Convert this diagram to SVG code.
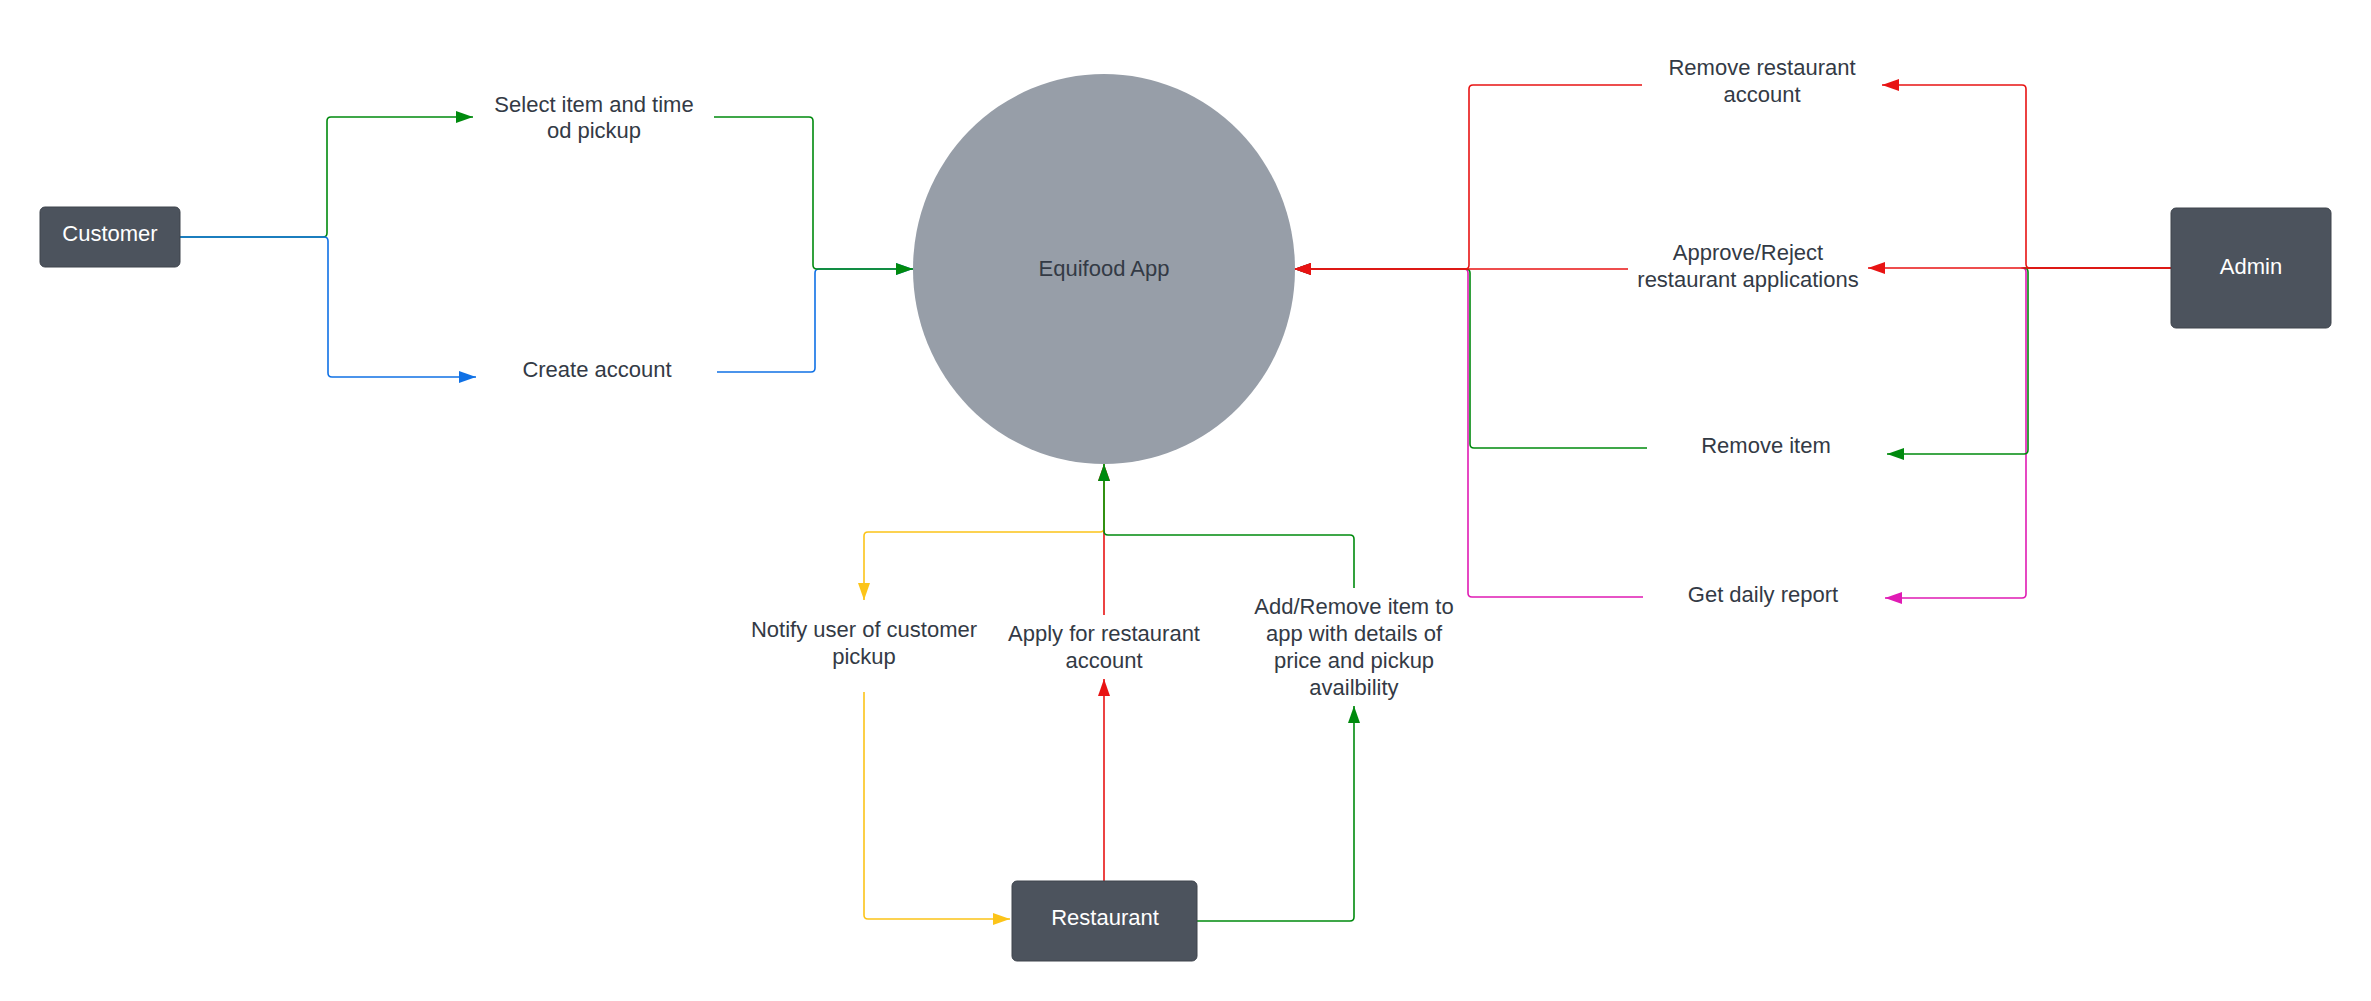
<svg xmlns="http://www.w3.org/2000/svg" width="2371" height="1001" viewBox="0 0 2371 1001">
<style>
.bg{fill:#ffffff}
.box{fill:#4c535d;stroke:#3e444d;stroke-width:1}
.boxt{font-family:"Liberation Sans",Arial,sans-serif;font-size:22px;fill:#ffffff;text-anchor:middle}
.t{font-family:"Liberation Sans",Arial,sans-serif;font-size:22px;fill:#333a45;text-anchor:middle}
.c{fill:none;stroke-width:1.6;stroke-linejoin:round}
.g{stroke:#008a0e}
.b{stroke:#1071e5}
.r{stroke:#e81313}
.y{stroke:#fcc419}
.m{stroke:#e01bb4}
</style>
<defs>
<marker id="aG" markerUnits="userSpaceOnUse" markerWidth="17" markerHeight="12" refX="17" refY="6" orient="auto"><path d="M0,0 L17,6 L0,12 z" fill="#008a0e"/></marker>
<marker id="aB" markerUnits="userSpaceOnUse" markerWidth="17" markerHeight="12" refX="17" refY="6" orient="auto"><path d="M0,0 L17,6 L0,12 z" fill="#1071e5"/></marker>
<marker id="aR" markerUnits="userSpaceOnUse" markerWidth="17" markerHeight="12" refX="17" refY="6" orient="auto"><path d="M0,0 L17,6 L0,12 z" fill="#e81313"/></marker>
<marker id="aY" markerUnits="userSpaceOnUse" markerWidth="17" markerHeight="12" refX="17" refY="6" orient="auto"><path d="M0,0 L17,6 L0,12 z" fill="#fcc419"/></marker>
<marker id="aM" markerUnits="userSpaceOnUse" markerWidth="17" markerHeight="12" refX="17" refY="6" orient="auto"><path d="M0,0 L17,6 L0,12 z" fill="#e01bb4"/></marker>
</defs>
<rect class="bg" x="0" y="0" width="2371" height="1001"/>

<g id="connectors">
  <!-- Customer side -->
  <path class="c g" d="M180,237 H323 Q327,237 327,233 V121 Q327,117 331,117 H473" marker-end="url(#aG)"/>
  <path class="c b" d="M180,237 H324 Q328,237 328,241 V373 Q328,377 332,377 H476" marker-end="url(#aB)"/>
  <path class="c b" d="M717,372 H811 Q815,372 815,368 V273 Q815,269 819,269 H913" marker-end="url(#aB)"/>
  <path class="c g" d="M714,117 H809 Q813,117 813,121 V265 Q813,269 817,269 H913" marker-end="url(#aG)"/>

  <!-- Admin side -->
  <path class="c m" d="M2171,268 H2022 Q2026,268 2026,272 V594 Q2026,598 2022,598 H1885" marker-end="url(#aM)"/>
  <path class="c g" d="M2171,268 H2024 Q2028,268 2028,272 V450 Q2028,454 2024,454 H1887" marker-end="url(#aG)"/>
  <path class="c r" d="M2171,268 H2030 Q2026,268 2026,264 V89 Q2026,85 2022,85 H1882" marker-end="url(#aR)"/>
  <path class="c r" d="M2171,268 H1868" marker-end="url(#aR)"/>

  <path class="c m" d="M1643,597 H1472 Q1468,597 1468,593 V273 Q1468,269 1464,269 H1294" marker-end="url(#aM)"/>
  <path class="c g" d="M1647,448 H1474 Q1470,448 1470,444 V273 Q1470,269 1466,269 H1294" marker-end="url(#aG)"/>
  <path class="c r" d="M1642,85 H1473 Q1469,85 1469,89 V265 Q1469,269 1465,269 H1294" marker-end="url(#aR)"/>
  <path class="c r" d="M1628,269 H1294" marker-end="url(#aR)"/>

  <!-- Restaurant side -->
  <path class="c r" d="M1104,881 V679" marker-end="url(#aR)"/>
  <path class="c r" d="M1104,615 V464" marker-end="url(#aR)"/>
  <path class="c y" d="M1104,464 V528 Q1104,532 1100,532 H868 Q864,532 864,536 V600" marker-end="url(#aY)"/>
  <path class="c g" d="M1354,588 V539 Q1354,535 1350,535 H1108 Q1104,535 1104,531 V464" marker-end="url(#aG)"/>
  <path class="c y" d="M864,692 V915 Q864,919 868,919 H1010" marker-end="url(#aY)"/>
  <path class="c g" d="M1197,921 H1350 Q1354,921 1354,917 V706" marker-end="url(#aG)"/>
</g>

<g id="customer">
  <rect class="box" x="40" y="207" width="140" height="60" rx="5"/>
  <text class="boxt" x="110" y="241">Customer</text>
</g>
<g id="select-item">
  <text class="t" x="594" y="112">Select item and time</text>
  <text class="t" x="594" y="138">od pickup</text>
</g>
<g id="create-account">
  <text class="t" x="597" y="377">Create account</text>
</g>
<g id="equifood-app">
  <ellipse cx="1104" cy="269" rx="191" ry="195" fill="#979ea8"/>
  <text class="t" x="1104" y="276">Equifood App</text>
</g>
<g id="remove-restaurant">
  <text class="t" x="1762" y="75">Remove restaurant</text>
  <text class="t" x="1762" y="102">account</text>
</g>
<g id="approve-reject">
  <text class="t" x="1748" y="260">Approve/Reject</text>
  <text class="t" x="1748" y="287">restaurant applications</text>
</g>
<g id="remove-item">
  <text class="t" x="1766" y="453">Remove item</text>
</g>
<g id="daily-report">
  <text class="t" x="1763" y="602">Get daily report</text>
</g>
<g id="admin">
  <rect class="box" x="2171" y="208" width="160" height="120" rx="5"/>
  <text class="boxt" x="2251" y="274">Admin</text>
</g>
<g id="notify-user">
  <text class="t" x="864" y="637">Notify user of customer</text>
  <text class="t" x="864" y="664">pickup</text>
</g>
<g id="apply-restaurant">
  <text class="t" x="1104" y="641">Apply for restaurant</text>
  <text class="t" x="1104" y="668">account</text>
</g>
<g id="add-remove-item">
  <text class="t" x="1354" y="614">Add/Remove item to</text>
  <text class="t" x="1354" y="641">app with details of</text>
  <text class="t" x="1354" y="668">price and pickup</text>
  <text class="t" x="1354" y="695">availbility</text>
</g>
<g id="restaurant">
  <rect class="box" x="1012" y="881" width="185" height="80" rx="5"/>
  <text class="boxt" x="1105" y="925">Restaurant</text>
</g>
</svg>
